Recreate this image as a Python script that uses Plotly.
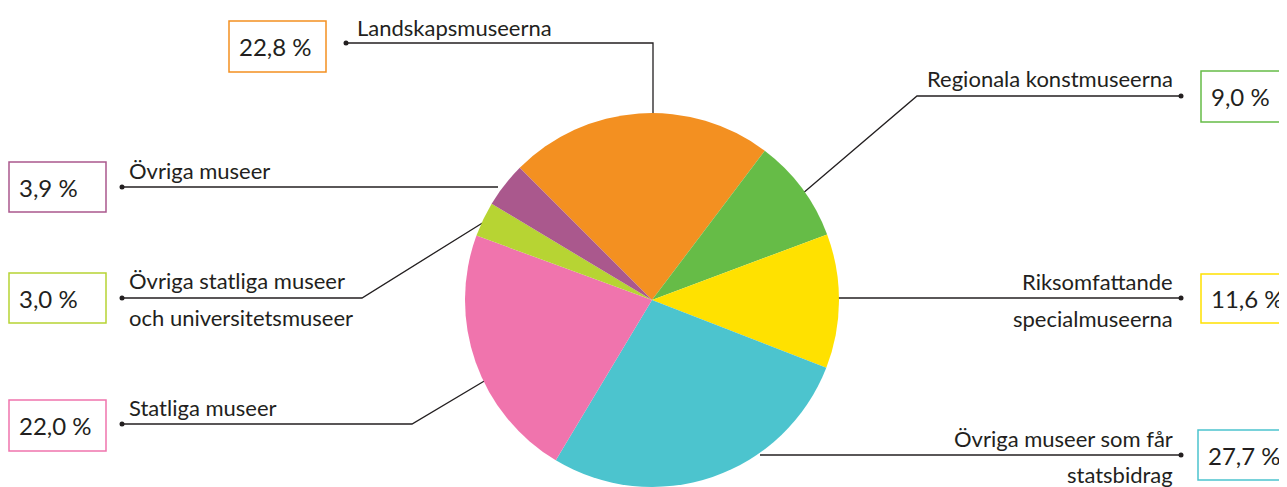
import plotly.graph_objects as go

# ---- data ----
labels = ["Landskapsmuseerna", "Regionala konstmuseerna", "Riksomfattande specialmuseerna",
          "Övriga museer som får statsbidrag", "Statliga museer",
          "Övriga statliga museer och universitetsmuseer", "Övriga museer"]
values = [22.8, 9.0, 11.6, 27.7, 22.0, 3.0, 3.9]
colors = ["#F39021", "#66BC47", "#FFE100", "#4CC4CE", "#F074AD", "#B7D433", "#AA588D"]
label_lines = [["Landskapsmuseerna"], ["Regionala konstmuseerna"],
               ["Riksomfattande", "specialmuseerna"],
               ["Övriga museer som får", "statsbidrag"], ["Statliga museer"],
               ["Övriga statliga museer", "och universitetsmuseer"], ["Övriga museer"]]

PAGE_W, PAGE_H = 1287, 487
OFF = 8                      # default body margin of the html page
W, H = PAGE_W - OFF, PAGE_H - OFF
CX, CY, R = 652, 300, 187    # page pixel coordinates
FONT = "Lato"
TXT = "#231F20"

# ---- layout specs (page pixel positions) ----
specs = [
    dict(pts=[(346, 43), (653, 43), (653, 118)], text_x=355, text_y=[27], align="left",
         box=(229, 21, 326, 72)),
    dict(pts=[(1181, 96), (917, 96), (802, 194)], text_x=1175, text_y=[78], align="right",
         box=(1201, 71, 1298, 122)),
    dict(pts=[(1181, 298), (835, 298)], text_x=1175, text_y=[281, 318], align="right",
         box=(1201, 274, 1298, 323)),
    dict(pts=[(1181, 455), (760, 455)], text_x=1175, text_y=[438, 474], align="right",
         box=(1198, 430, 1295, 480)),
    dict(pts=[(122, 424), (412, 424), (486, 380)], text_x=127, text_y=[407], align="left",
         box=(9, 400, 106, 451)),
    dict(pts=[(122, 298), (362, 298), (484, 222)], text_x=127, text_y=[280, 317], align="left",
         box=(9, 273, 106, 323)),
    dict(pts=[(122, 187), (498, 187)], text_x=127, text_y=[170], align="left",
         box=(9, 162, 106, 212)),
]

fig = go.Figure()

for sp in specs:
    xs = [p[0] for p in sp["pts"]]
    ys = [p[1] for p in sp["pts"]]
    fig.add_trace(go.Scatter(x=xs, y=ys, mode="lines", line=dict(color=TXT, width=1.3),
                             hoverinfo="skip", showlegend=False))
    fig.add_trace(go.Scatter(x=[xs[0]], y=[ys[0]], mode="markers",
                             marker=dict(color=TXT, size=5), hoverinfo="skip", showlegend=False))

fig.add_trace(go.Pie(
    labels=labels, values=values, sort=False, direction="clockwise", rotation=-45,
    marker=dict(colors=colors, line=dict(width=0)), textinfo="none", hoverinfo="label+percent",
    showlegend=False,
    domain=dict(x=[(CX - R - OFF) / W, (CX + R - OFF) / W],
                y=[1 - (CY + R - OFF) / H, 1 - (CY - R - OFF) / H]),
))

annotations = []
shapes = []
for sp, lines, v, c in zip(specs, label_lines, values, colors):
    for line_txt, ty in zip(lines, sp["text_y"]):
        annotations.append(dict(
            x=sp["text_x"], y=ty, xref="x", yref="y", text=line_txt, showarrow=False,
            xanchor=sp["align"], yanchor="middle",
            font=dict(family=FONT, size=22, color=TXT)))
    x0, y0, x1, y1 = sp["box"]
    shapes.append(dict(type="rect", xref="x", yref="y", x0=x0, y0=y0, x1=x1, y1=y1,
                       line=dict(color=c, width=1.5), fillcolor="rgba(0,0,0,0)"))
    annotations.append(dict(
        x=x0 + 8, y=(y0 + y1) / 2, xref="x", yref="y",
        text=f"{v:.1f}".replace(".", ",") + " %", showarrow=False,
        xanchor="left", yanchor="middle",
        font=dict(family=FONT, size=24, color=TXT)))

fig.update_layout(
    width=W, height=H, margin=dict(l=0, r=0, t=0, b=0),
    paper_bgcolor="white", plot_bgcolor="white",
    xaxis=dict(range=[OFF, PAGE_W], visible=False, fixedrange=True),
    yaxis=dict(range=[PAGE_H, OFF], visible=False, fixedrange=True),
    shapes=shapes, annotations=annotations,
)

fig.write_html("out.html")
